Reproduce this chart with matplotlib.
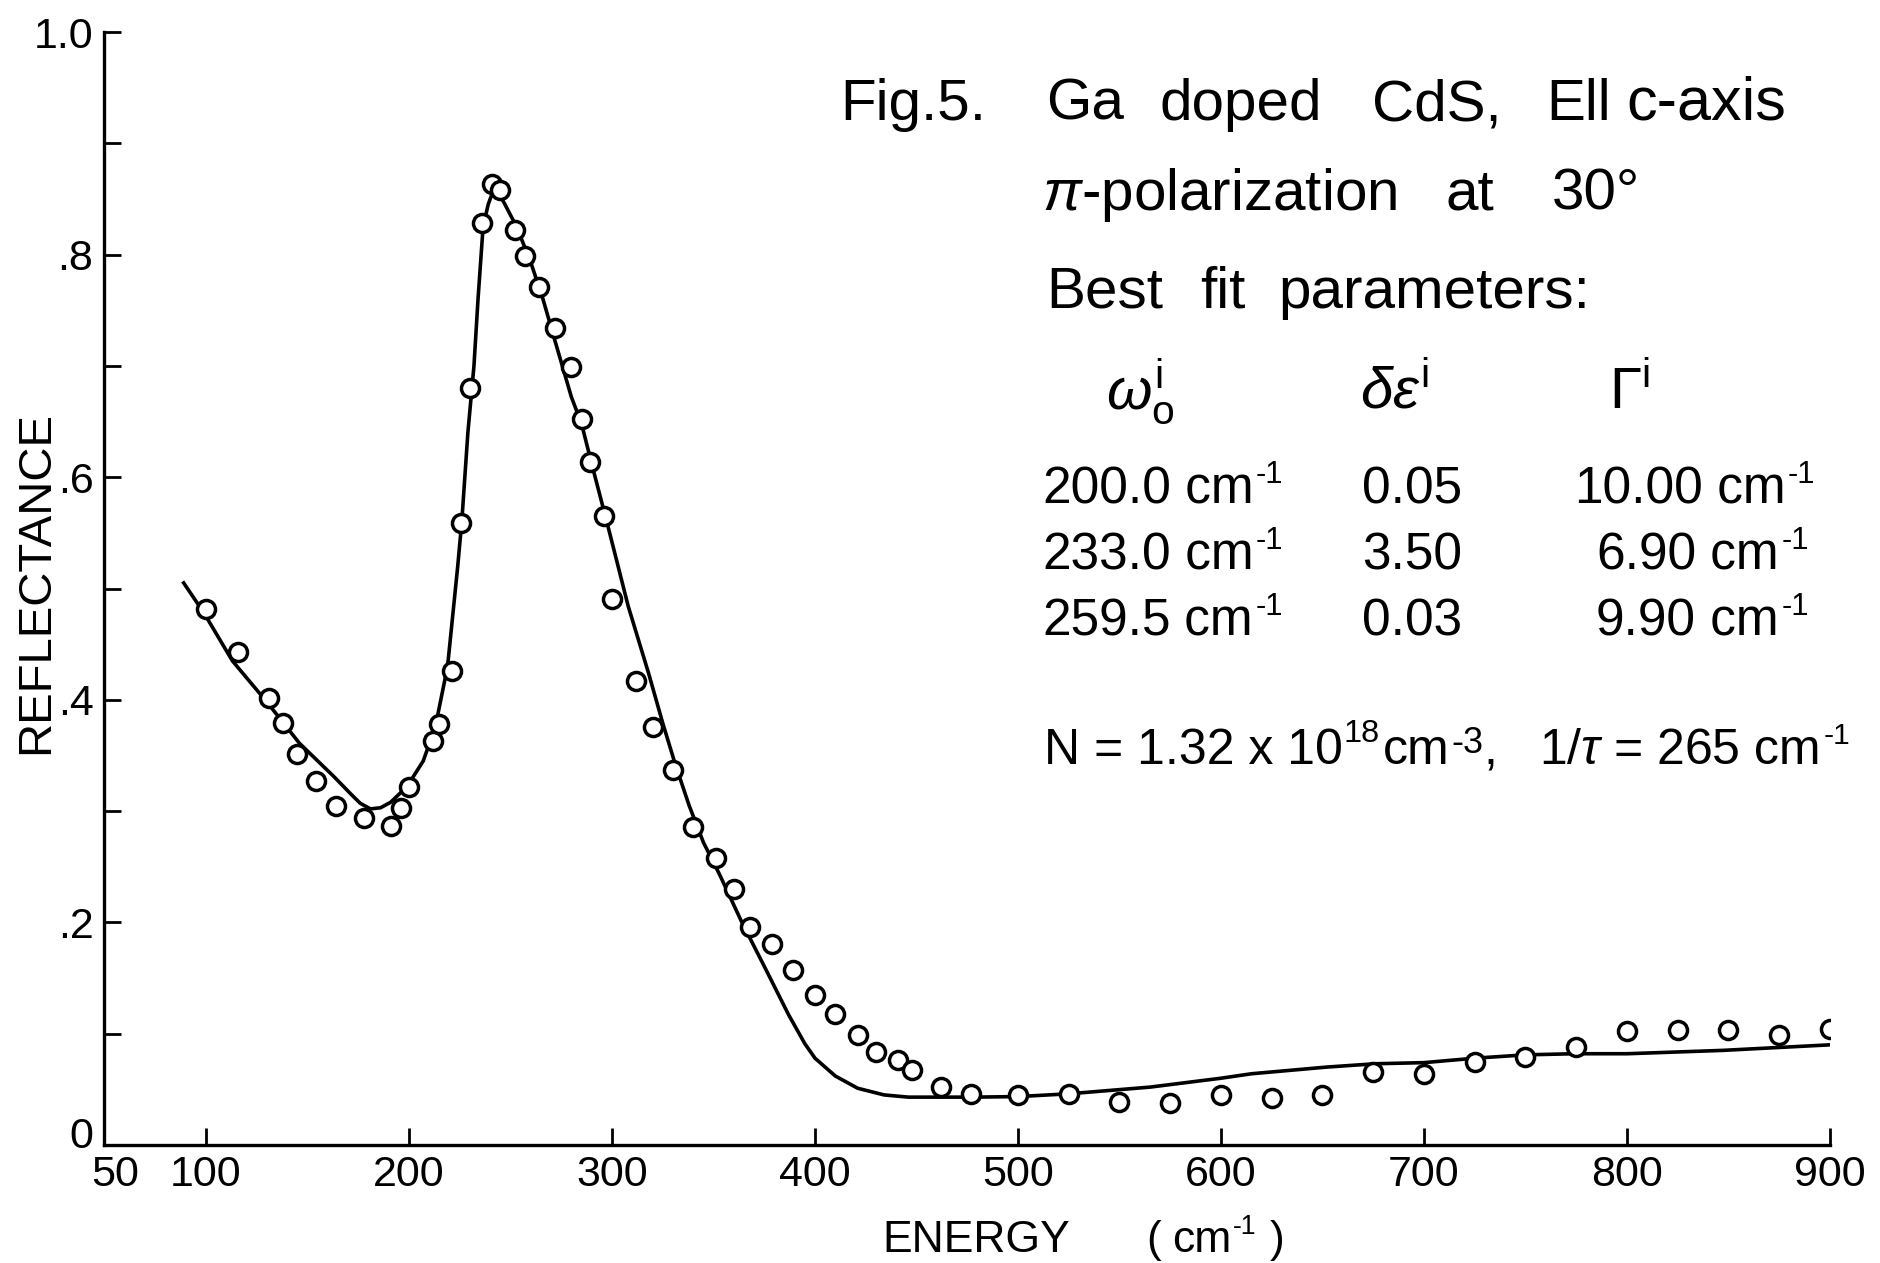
import matplotlib
matplotlib.use('Agg')
import matplotlib.pyplot as plt

# --- fonts ---
plt.rcParams['font.family'] = ['Liberation Sans', 'DejaVu Sans']
plt.rcParams['mathtext.fontset'] = 'custom'
plt.rcParams['mathtext.rm'] = 'Liberation Sans'
plt.rcParams['mathtext.it'] = 'Liberation Sans:italic'
plt.rcParams['mathtext.bf'] = 'Liberation Sans:bold'

# --- measured reflectance (open circles) ---
meas_energy = [100, 116, 131, 138, 145, 154, 164, 178, 191, 196, 200, 212, 215, 221,
               225.5, 230, 236, 241, 245, 252, 257, 264, 272, 280, 285, 289, 296, 300,
               312, 320, 330, 340, 351, 360, 368, 379, 389, 400, 410, 421, 430, 441,
               448, 462, 477, 500, 525, 550, 575, 600, 625, 650, 675, 700, 725, 750,
               775, 800, 825, 850, 875, 900]
meas_refl = [0.482, 0.443, 0.402, 0.379, 0.351, 0.327, 0.305, 0.294, 0.287, 0.303, 0.322,
             0.363, 0.378, 0.426, 0.559, 0.680, 0.828, 0.863, 0.858, 0.822, 0.799, 0.771,
             0.734, 0.699, 0.652, 0.614, 0.565, 0.491, 0.417, 0.376, 0.337, 0.286, 0.258,
             0.230, 0.196, 0.181, 0.157, 0.135, 0.118, 0.099, 0.084, 0.076, 0.067, 0.052,
             0.046, 0.045, 0.046, 0.039, 0.038, 0.045, 0.042, 0.045, 0.066, 0.064, 0.075,
             0.079, 0.088, 0.102, 0.103, 0.103, 0.099, 0.104]

# --- best fit curve (solid line) ---
fit_energy = [89, 99, 113, 130, 146, 163, 171, 176, 181, 186, 191, 199, 207, 213, 219,
              224, 226, 229, 232, 234, 236.5, 239, 241, 244, 247, 253, 260, 266, 272,
              280, 285, 290, 298, 308, 318, 325, 331, 338, 345, 353, 364, 376, 387, 395,
              400, 410, 421, 434, 446, 478, 500, 525, 565, 600, 615, 652, 676, 700, 725,
              750, 774, 800, 847, 900]
fit_refl = [0.505, 0.478, 0.435, 0.398, 0.361, 0.331, 0.316, 0.307, 0.302, 0.303, 0.308,
            0.322, 0.345, 0.376, 0.430, 0.52, 0.56, 0.64, 0.70, 0.76, 0.825, 0.845, 0.855,
            0.856, 0.846, 0.825, 0.793, 0.760, 0.722, 0.672, 0.648, 0.612, 0.556, 0.484,
            0.424, 0.379, 0.343, 0.305, 0.272, 0.243, 0.200, 0.157, 0.117, 0.091, 0.078,
            0.062, 0.051, 0.045, 0.043, 0.043, 0.0435, 0.046, 0.052, 0.060, 0.064, 0.070,
            0.073, 0.074, 0.078, 0.081, 0.082, 0.082, 0.085, 0.090]

# --- axis ticks ---
x_ticks = [50, 100, 200, 300, 400, 500, 600, 700, 800, 900]
y_ticks = [0, 0.1, 0.2, 0.3, 0.4, 0.5, 0.6, 0.7, 0.8, 0.9, 1.0]
y_ticklabels = ['', '', '.2', '', '.4', '', '.6', '', '.8', '', '1.0']

# --- fit parameters table ---
omega0 = ['200.0', '233.0', '259.5']
delta_eps = ['0.05', '3.50', '0.03']
gamma = ['10.00', '6.90', '9.90']

W, H = 1881, 1263
TICK_SIZE = 31
fig = plt.figure(figsize=(W / 100, H / 100), dpi=100)
ax = fig.add_axes([104.5 / W, 1 - 1145 / H, (1830 - 104.5) / W, (1145 - 32) / H])

ax.plot(fit_energy, fit_refl, color='black', lw=2.6, zorder=2)
ax.plot(meas_energy, meas_refl, linestyle='none', marker='o', ms=13, mew=2.5,
        mfc='white', mec='black', zorder=3)

ax.set_xlim(50, 900)
ax.set_ylim(0, 1.0)
for side in ['top', 'right']:
    ax.spines[side].set_visible(False)
for side in ['left', 'bottom']:
    ax.spines[side].set_linewidth(2.4)

ax.set_xticks(x_ticks)
ax.set_xticklabels([''] + [str(t) for t in x_ticks[1:]])
ax.set_yticks(y_ticks)
ax.set_yticklabels(y_ticklabels)
ax.tick_params(axis='both', direction='in', length=12, width=2, labelsize=TICK_SIZE)
ax.tick_params(axis='x', pad=7)
ax.tick_params(axis='y', pad=8)
ax.xaxis.get_major_ticks()[0].tick1line.set_visible(False)

# corner labels sit a little apart from the origin, as in the drawing
ax.annotate(str(x_ticks[0]), xy=(x_ticks[0], 0), xytext=(8, -7), textcoords='offset points',
            ha='center', va='top', fontsize=TICK_SIZE, annotation_clip=False)
ax.annotate('0', xy=(x_ticks[0], 0), xytext=(-8, 6), textcoords='offset points',
            ha='right', va='center', fontsize=TICK_SIZE, annotation_clip=False)

renderer = fig.canvas.get_renderer()


def put(px, py, s, size=42, **kw):
    return fig.text(px / W, 1 - py / H, s, fontsize=size, va='baseline', **kw)


def put_run(px, py, parts, size):
    # parts: (text, scale, rise in em, gap before in em)
    x = px
    em = size * 100 / 72
    for s, scale, rise, gap in parts:
        x += gap * em
        t = put(x, py - rise * em, s, size=size * scale)
        x = t.get_window_extent(renderer).x1
    return x


SUP = 0.6
cm_inv = [(' cm', 1, 0, 0), ('-1', SUP, 0.40, 0.05)]

# --- axis titles ---
fig.text(36 / W, 1 - 582 / H, 'REFLECTANCE', fontsize=34, rotation=90,
         ha='center', va='center')
put(882, 1252, 'ENERGY', size=32)
put_run(1146, 1252, [('(', 1, 0, 0), ('cm', 1, 0, 0.25), ('-1', SUP, 0.40, 0.05),
                     (')', 1, 0, 0.3)], 32)

# --- annotation block ---
put(840, 120, 'Fig.5.')
put(1046, 120, 'Ga')
put(1160, 120, 'doped')
put(1372, 120, 'CdS,')
put(1546, 120, 'Ell')
put(1626, 120, 'c-axis', size=44)
put(1042, 210, r'$\pi$-polarization')
put(1446, 210, 'at')
put(1552, 210, '30°')
put(1046, 308, 'Best')
put(1200, 308, 'fit')
put(1278, 308, 'parameters:')

put(1140, 408, r'$\omega_{\rm o}^{\rm i}$', ha='center')
put(1395, 408, r'$\delta\epsilon^{\rm i}$', ha='center')
put(1630, 408, r'$\Gamma^{\rm i}$', ha='center')

row_y = [504, 570, 636]
gamma_x = [1574, 1596, 1596]
for w0, de, g, gx, y in zip(omega0, delta_eps, gamma, gamma_x, row_y):
    put_run(1042, y, [(w0, 1, 0, 0)] + cm_inv, 37)
    put(1362, y, de, size=37)
    put_run(gx, y, [(g, 1, 0, 0)] + cm_inv, 37)

put_run(1044, 764, [('N = 1.32 x 10', 1, 0, 0), ('18', 0.65, 0.45, 0.02),
                    ('cm', 1, 0, 0.05), ('-3', 0.72, 0.22, 0.04), (',', 1, 0, 0),
                    (r'1/$\tau$ = 265', 1, 0, 0.85)] + cm_inv, 36)

fig.savefig('out.png', dpi=100)
